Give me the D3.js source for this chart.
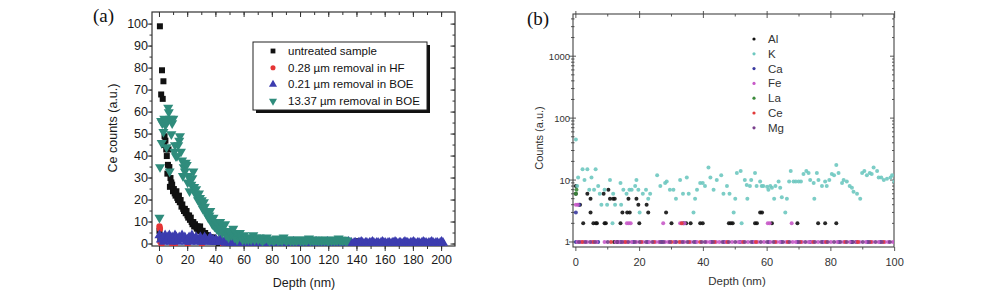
<!DOCTYPE html>
<html>
<head>
<meta charset="utf-8">
<script src="https://cdn.jsdelivr.net/npm/d3@7"></script>
<style>
  html, body { margin: 0; padding: 0; background: #fff; }
  svg { display: block; font-family: Arial, "Liberation Sans", Helvetica, sans-serif; }
</style>
</head>
<body>
<svg id="chart" width="1000" height="294"></svg>
<script>
// ---------- panel (a): Ce counts vs depth ----------
const legendA = ["untreated sample", "0.28 \u00b5m removal in  HF", "0.21 \u00b5m removal in BOE", "13.37 \u00b5m removal in BOE"];
const xTicksA = [0, 20, 40, 60, 80, 100, 120, 140, 160, 180, 200];
const yTicksA = [0, 10, 20, 30, 40, 50, 60, 70, 80, 90, 100];

// [depth nm, counts]
const untreated = [
  [0,6],[0.3,99],[0.6,3],[1.2,68],[1.8,79],[2.3,66],[2.8,74],[3.2,45],[3.6,49],[4.2,47],[4.8,43],[5.2,40],[5.6,32],
  [6.0,36],[6.4,43],[7.0,35],[7.4,26],[7.8,30],[8.4,28],[9.0,27],[9.6,24],[10.2,25],[10.8,23],[11.4,22],[12.0,24],
  [12.6,21],[13.2,20],[13.8,22],[14.4,19],[15.0,20],[15.6,17],[16.2,18],[16.8,16],[17.4,15],[18.0,16],[18.6,14],
  [19.2,15],[19.8,13],[20.4,12],[21.0,13],[21.6,11],[22.2,12],[22.8,10],[23.4,9],[24.0,10],[24.6,8],[25.2,9],
  [25.8,8],[26.4,7],[27.0,8],[27.6,6],[28.2,7],[28.8,8],[29.4,6],[30.0,5],[30.6,6],[31.2,5],[31.8,4],[32.4,5],
  [33.0,4],[33.6,3],[34.2,4],[34.8,3],[35.4,2],[36.0,3],[36.6,2],[37.2,2],[37.8,3],[38.4,2],[39.0,1],[39.6,2],
  [40.2,1],[41,1],[42,0.5],[44,1],[46,0.5],[48,1],[50,0.5],[53,0.5],[56,0.3],[60,0.5],[65,0.3],[70,0.5],[80,0.3],
  [90,0.5],[100,0.3],[110,0.5],[120,0.3],[130,0.5],[140,1.3],[150,0.3],[160,0.5],[170,0.3],[180,0.5],[190,0.3],[200,0.4]
];
const hfRemoval = [[0,8],[0.3,7],[0.6,1],[1.5,0],[9,0],[10,-0.3],[11,0],[20,0],[30,0],[45,0],[60,0]];
const boeShallowDepth0 = 0; // first depth of the 1 nm sampled BOE (0.21 um) profile
const boeShallow = [
  4,2,3,1,4,2,3,4,1,3,2,4,3,1,3,2,4,2,3,1,2,3,1,4,2,2,3,1,2,3,1,2,3,2,1,2,3,1,2,1,2,1,1,2,1,1,
  1,0.5,1,0.5,1,0.5,0.5,1,0.5,0,0.5,1,0.5,0.5,0,0.5,1,0.5,0,0.5,0.5,1,0.5,0,0.5,0.5,0,0.5,1,0.5,
  0.5,0,0.5,0.5,1,0.5,0,0.5,0.5,0,0.5,0.5,1,0.5,0,0.5,0.5,0,0.5,1,0.5,0.5,0,0.5,0.5,0,0.5,1,0.5,0,
  0.5,0.5,0,0.5,0.5,1,0.5,0,0.5,0.5,0,0.5,0.5,1,0.5,0,0.5,0.5,0,0.5,0.5,1,0.5,0,0.5,0.5,0,0.5,1,0.5,
  0.5,0,0.5,0.5,0,0.5,0.5,1,0.5,0,0.5,0.5,0,0.5,0.5,1,0.5,0,0.5,0.5,0,0.5,1,0.5,0.5,0,0.5,0.5,0,0.5,
  0.5,1,0.5,0,0.5,0.5,0,0.5,1,0.5,0.5,0,0.5,0.5,1,0.5,0,0.5,0.5,0,0.5,1,0.5,0.5,0,0.5,0.5,1,0.5,0,
  0.5,0.5,0,0.5,1,0.5
];
const boeDeep = [
  [0,12],[0.4,35],[1.2,56],[1.6,46],[2.0,55],[2.8,51],[3.4,57],[4.2,54],[5.0,44],[5.6,56],[6.2,62],[6.6,60],
  [7.2,33],[7.7,57],[8.4,50],[9.0,55],[9.8,57],[10.5,42],[11.0,45],[11.6,40],[12.4,40],[13.3,45],[14.0,47],
  [14.5,49],[15.2,42],[16.0,38],[16.6,31],[17.2,35],[18.0,33],[18.6,37],[19.3,36],[20.0,28],[20.6,31],[21.3,24],
  [22.0,29],[22.6,27],[23.3,30],[24.0,33],[24.6,26],[25.3,23],[26.0,25],[26.6,22],[27.3,20],[28.0,23],[28.7,21],
  [29.4,18],[30.0,20],[30.8,16],[31.5,19],[32.2,17],[33.0,14],[33.8,15],[34.6,12],[35.4,13],[36.0,15],[36.8,11],
  [37.5,9],[38.3,12],[39.0,8],[39.8,10],[40.5,7],[41.3,9],[42.0,6],[43.0,10],[43.8,7],[44.6,5],[45.4,8],[46.5,9],
  [47.3,4],[48.2,6],[49.0,3],[50.0,5],[51.0,4],[52.3,7],[53.2,3],[54.2,5],[55.0,2],[56.0,4],[57.0,5],[58.0,3],
  [59.0,2],[60.0,4],[61.0,2],[62.0,3],[63.0,2],[64.0,3],[65.0,2],[66.5,4],[67.5,2],[68.5,3],[70,2],[71,3],[72,2],
  [73,1.5],[74,2],[75,2.5],[76,3],[77,2],[78,1.5],[79,2],[80,2],[81,1.5],[82,2],[83,2.5],[84,1.5],[85,2],[86,2],
  [87,1.5],[88,3],[89,2],[90,1.5],[91,2],[92,2],[93,1.5],[94,2],[95,1.5],[96,2],[97,1.5],[98,2],[99,2],[100,1.5],
  [101,2],[102,1.5],[103,2],[104,1.5],[105,2],[106,2.5],[107,1.5],[108,2],[109,1.5],[110,2],[111,1.5],[112,2],
  [113,1.5],[114,2],[115,1.5],[116,2],[117,1.5],[118,2],[119,1.5],[120,1.5],[121,2],[122,1.5],[123,2],[124,1.5],
  [125,2],[126,1.5],[127,2.5],[128,1.5],[129,2],[130,1.5],[131,2],[132,1.5],[133,1.5]
];

// ---------- panel (b): element counts vs depth (log) ----------
const elements = ["Al", "K", "Ca", "Fe", "La", "Ce", "Mg"];
const elementColors = ["#111111", "#6ec8c0", "#3a3aa0", "#c85ac8", "#3a8a3a", "#e23a3a", "#7a3f8c"];
const xTicksB = [0, 20, 40, 60, 80, 100];
const yTicksB = [1, 10, 100, 1000];

const kCounts = [
  [0,45],[0.4,8],[0.7,11],[2.1,15],[2.7,10],[3.6,15],[4.2,7],[4.9,11],[5.7,7],[6.2,15],[7,8],[7.5,6],[8,4],[9,7],
  [9.8,4],[10.7,10],[11.5,2],[11.7,6],[12.3,4],[14,9],[14.2,4],[14.9,7],[15.9,6],[16.8,7],[17.5,7],[18.6,8],[19,10],
  [19.6,7],[20,3],[21,6],[22,7],[22.7,5],[23.3,6],[25.5,12],[26.5,8],[28,9],[28.5,9.5],[29.5,7],[30.6,7],[31.4,5],
  [32.7,10],[33.6,6],[34.8,11],[35.4,6],[36.9,3],[37.4,5],[38,7],[39,9],[39.8,9],[40.5,8],[41.6,16],[42.2,11],
  [43.2,7],[44.2,10],[45.6,12],[46.3,6],[47.4,8],[48.2,6],[49.5,3],[50,5],[50.5,13],[51.7,14],[52,2],[53,10],
  [53.6,8.3],[53.8,5],[54.6,8],[55,10],[56.2,13],[56.7,8],[57.8,9.5],[58.3,8],[58.8,8],[60,7.8],[60.4,7],[61,8],
  [61.5,7.5],[62.2,5],[62.6,8],[63.6,9.5],[64.1,7.5],[64.6,5.3],[65.7,3],[66.2,5],[66.9,9.5],[67.4,14],[68.3,9.5],
  [69,9.5],[69.9,9.5],[70.6,9.5],[71.4,12.5],[72.3,14],[73,13],[73.5,10],[74.6,9],[74.8,5],[75.6,13],[76.1,10],
  [77.2,8],[78.2,9.5],[78.7,8],[79.5,10],[80.3,12.5],[81,12],[81.7,17.5],[82.4,13],[83.5,9],[84,10],[85,9.5],
  [85.9,8],[86.6,7.5],[87.1,6.5],[88.2,6],[89.2,5],[89.8,13],[90.5,14],[91.3,12],[92.2,13],[92.8,12.5],[93.4,16],
  [94.5,14],[95,11],[95.8,11],[96.6,10],[97.6,10.5],[98.7,11],[99.2,12],[99.9,9.5]
];
const alCounts = [
  [0,8],[0,6],[1.3,4],[2.3,2],[3.6,6],[4.6,5],[4.6,3],[5.5,2],[6.3,2],[6.6,2],[8.7,6],[9,2],[9.4,2],[10.2,7],[10.7,5],
  [11.7,5],[12.2,5],[12,1],[13,1],[14,2],[14.6,3],[16.1,3],[16.5,5],[16.9,3],[19,5],[19.6,4],[19.9,2],[22.2,4],
  [22.7,3],[28.3,3],[30,2],[33.8,2],[34.6,2],[36,2],[39,2],[39.8,2],[48,2],[48.6,2],[49.2,2],[56.2,2],[56.8,2],
  [57.8,3],[58.4,3],[61.5,2],[69.5,2],[76,2],[78.2,2],[81.7,2],[86.5,1],[88,1]
];
const caCounts = [[0,3],[1,4],[0,1],[7,1],[14,1],[18,1],[22.5,1],[27,1],[31,1],[37.5,1],[42.5,1],[46.5,1],[51.5,1],
  [55.5,1],[60.5,1],[64.5,1],[69.5,1],[73.5,1],[77.5,1],[82.5,1],[86.5,1],[91.5,1],[95.5,1]];
const feCounts = [[0,4],[0.6,4],[0.5,1],[1.5,1],[2.5,1],[3.5,1],[5,1],[6.5,1],[9,1],[12.5,1],[13.5,1],[15,1],[16,2],
  [16.6,2],[17.2,2],[16,1],[17.5,1],[19,1],[21,1],[23,1],[25,1],[26,1],[27.4,2],[28,1],[29,1],[31,1],[32.7,2],
  [33.4,2],[34.1,2],[33,1],[34,1],[36,1],[38,1],[41,1],[42,1],[44,1],[45,1],[47,1],[49,1],[51,1],[52,1],[54,1],
  [56,1],[57,1],[59,1],[60.2,2],[60.8,2],[61,1],[63,1],[64,1],[66,1],[67.7,2],[68,1],[69,1],[71,1],[73,1],[74,1],
  [76,1],[78,1],[80,1],[82,1],[84,1],[86,1],[88,1],[89,1],[91,1],[93,1],[95,1],[97,1],[98,1],[99.5,1]];
const laCounts = [[0,6],[0.2,7]];
const ceCounts = [[2,1],[5.5,1],[11,1],[15.5,1],[20.5,1],[24.5,1],[30,1],[32.5,1],[33.2,2],[35.5,1],[39,1],[43.5,1],
  [47.5,1],[52.5,1],[56.5,1],[62.5,1],[66.5,1],[70.5,1],[74.5,1],[78.5,1],[84.5,1],[88.5,1],[92.5,1],[96.5,1]];
const mgCounts = [[1,1],[3,1],[4.5,1],[6,1],[10,1],[13,1],[14.5,1],[16.5,1],[18.5,1],[20,1],[22,1],[24,1],[26.5,1],
  [27.5,1],[29.5,1],[31.5,1],[33.5,1],[35,1],[37,1],[39.5,1],[40.5,1],[43,1],[46,1],[48,1],[50,1],[53,1],[55,1],
  [58,1],[60,1],[62,1],[65,1],[67,1],[70,1],[72,1],[75,1],[77,1],[79,1],[81,1],[83,1],[85,1],[87,1],[90,1],[92,1],
  [94,1],[96,1],[98.5,1]];
const elementSeries = [alCounts, kCounts, caCounts, feCounts, laCounts, ceCounts, mgCounts];

const svg = d3.select("#chart");
const axisColor = "#333";

// ---------------- panel (a) ----------------
const xa = d3.scaleLinear().domain([-5.3, 209.5]).range([152, 455]);
const ya = d3.scaleLinear().domain([-0.9, 105.5]).range([246, 12]);
const ga = svg.append("g");

ga.append("rect").attr("x", 152).attr("y", 12).attr("width", 303).attr("height", 234)
  .attr("fill", "none").attr("stroke", axisColor).attr("stroke-width", 1.2);

const xMinorA = d3.range(0, 201, 10);
const yMinorA = d3.range(0, 101, 5);
function tickLines(g, vals, scale, orient, len) {
  vals.forEach(v => {
    const p = scale(v);
    if (orient === "bottom") g.append("line").attr("x1", p).attr("x2", p).attr("y1", 246).attr("y2", 246 + len);
    if (orient === "top") g.append("line").attr("x1", p).attr("x2", p).attr("y1", 12).attr("y2", 12 + len);
    if (orient === "left") g.append("line").attr("y1", p).attr("y2", p).attr("x1", 152).attr("x2", 152 - len);
    if (orient === "right") g.append("line").attr("y1", p).attr("y2", p).attr("x1", 455).attr("x2", 455 - len);
  });
}
const ta = ga.append("g").attr("stroke", axisColor).attr("stroke-width", 1);
tickLines(ta, xMinorA, xa, "bottom", 3);
tickLines(ta, xTicksA, xa, "bottom", 5);
tickLines(ta, xMinorA, xa, "top", 3);
tickLines(ta, xTicksA, xa, "top", 5);
tickLines(ta, yMinorA, ya, "left", 2.5);
tickLines(ta, yTicksA, ya, "left", 4.5);
tickLines(ta, yMinorA, ya, "right", 2.5);
tickLines(ta, yTicksA, ya, "right", 4.5);

const labA = { size: 12.5, fill: "#1a1a1a" };
ga.append("g").selectAll("text").data(xTicksA).join("text")
  .attr("x", d => xa(d)).attr("y", 264).attr("text-anchor", "middle")
  .attr("font-size", labA.size).attr("fill", labA.fill).text(d => d);
ga.append("g").selectAll("text").data(yTicksA).join("text")
  .attr("x", 148).attr("y", d => ya(d) + 4.3).attr("text-anchor", "end")
  .attr("font-size", labA.size).attr("fill", labA.fill).text(d => d);

ga.append("text").attr("transform", "translate(117,128) rotate(-90)").attr("text-anchor", "middle")
  .attr("font-size", labA.size).attr("fill", labA.fill).text("Ce counts (a.u.)");
ga.append("text").attr("x", 304).attr("y", 287).attr("text-anchor", "middle")
  .attr("font-size", labA.size).attr("fill", labA.fill).text("Depth (nm)");
svg.append("text").attr("x", 93).attr("y", 22).attr("font-family", "'Times New Roman', 'Liberation Serif', serif")
  .attr("font-size", 19).attr("fill", "#111").text("(a)");

const clipA = svg.append("defs").append("clipPath").attr("id", "clipA");
clipA.append("rect").attr("x", 152).attr("y", 12).attr("width", 303).attr("height", 234);
const marksA = ga.append("g").attr("clip-path", "url(#clipA)");

const colA = ["#111111", "#e53535", "#3c3caf", "#2f8c7c"];
const sq = d3.symbol().type(d3.symbolSquare).size(36);
const tri = d3.symbol().type(d3.symbolTriangle).size(44);
const circ = d3.symbol().type(d3.symbolCircle).size(32);

// drawing order follows the legend: untreated, HF, BOE 0.21, BOE 13.37
marksA.append("g").selectAll("path").data(untreated).join("path")
  .attr("d", sq).attr("fill", colA[0])
  .attr("transform", d => `translate(${xa(d[0])},${ya(d[1])})`);
marksA.append("g").selectAll("path").data(hfRemoval).join("path")
  .attr("d", circ).attr("fill", colA[1])
  .attr("transform", d => `translate(${xa(d[0])},${ya(d[1])})`);
marksA.append("g").selectAll("path").data(boeShallow).join("path")
  .attr("d", tri).attr("fill", colA[2])
  .attr("transform", (d, i) => `translate(${xa(boeShallowDepth0 + i)},${ya(d)})`);
marksA.append("g").selectAll("path").data(boeDeep).join("path")
  .attr("d", tri).attr("fill", colA[3])
  .attr("transform", d => `translate(${xa(d[0])},${ya(d[1])}) rotate(180)`);

// legend (a)
const lgA = ga.append("g");
lgA.append("rect").attr("x", 256).attr("y", 45).attr("width", 174).attr("height", 68).attr("fill", "#111");
lgA.append("rect").attr("x", 253).attr("y", 42).attr("width", 174).attr("height", 68)
  .attr("fill", "#fff").attr("stroke", "#222").attr("stroke-width", 1);
const legendSyms = [
  { s: sq, c: colA[0], r: 0 }, { s: circ, c: colA[1], r: 0 }, { s: tri, c: colA[2], r: 0 }, { s: tri, c: colA[3], r: 180 }
];
legendA.forEach((label, i) => {
  const y = 51 + i * 16.7;
  lgA.append("path").attr("d", legendSyms[i].s).attr("fill", legendSyms[i].c)
    .attr("transform", `translate(273,${y}) rotate(${legendSyms[i].r}) scale(0.8)`);
  lgA.append("text").attr("x", 288).attr("y", y + 4).attr("font-size", 11.5).attr("fill", "#111").text(label);
});

// ---------------- panel (b) ----------------
const xb = d3.scaleLinear().domain([-0.9, 99.8]).range([573, 894]);
const yb = d3.scaleLog().domain([0.83, 4800]).range([247, 14]);
const gb = svg.append("g");
gb.append("rect").attr("x", 573).attr("y", 14).attr("width", 321).attr("height", 233)
  .attr("fill", "none").attr("stroke", "#444").attr("stroke-width", 1.1);

const tb = gb.append("g").attr("stroke", "#444").attr("stroke-width", 0.9);
const xMinorB = d3.range(0, 101, 10);
xMinorB.forEach(v => {
  const p = xb(v), big = v % 20 === 0;
  tb.append("line").attr("x1", p).attr("x2", p).attr("y1", 247).attr("y2", 247 + (big ? 4 : 2.5));
  tb.append("line").attr("x1", p).attr("x2", p).attr("y1", 14).attr("y2", 14 + (big ? 4 : 2.5));
  tb.append("line").attr("x1", p).attr("x2", p).attr("y1", 14).attr("y2", 14 - (big ? 3 : 0));
});
const logMinor = [];
[1, 10, 100, 1000].forEach(dec => { for (let k = 1; k <= 9; k++) if (dec * k <= 4800 && dec * k >= 0.83) logMinor.push(dec * k); });
logMinor.forEach(v => {
  const p = yb(v), big = yTicksB.includes(v);
  tb.append("line").attr("y1", p).attr("y2", p).attr("x1", 573).attr("x2", 573 - (big ? 4 : 2));
  tb.append("line").attr("y1", p).attr("y2", p).attr("x1", 573).attr("x2", 573 + (big ? 3 : 1.5));
  tb.append("line").attr("y1", p).attr("y2", p).attr("x1", 894).attr("x2", 894 - (big ? 4 : 2));
});

gb.append("g").selectAll("text").data(xTicksB).join("text")
  .attr("x", d => xb(d)).attr("y", 266).attr("text-anchor", "middle")
  .attr("font-size", 11).attr("fill", "#333").text(d => d);
gb.append("g").selectAll("text").data(yTicksB).join("text")
  .attr("x", 570).attr("y", d => yb(d) + 3.5).attr("text-anchor", "end")
  .attr("font-size", 9.5).attr("fill", "#333").text(d => d);
gb.append("text").attr("transform", "translate(543,138) rotate(-90)").attr("text-anchor", "middle")
  .attr("font-size", 11).attr("fill", "#333").text("Counts (a.u.)");
gb.append("text").attr("x", 737).attr("y", 285).attr("text-anchor", "middle")
  .attr("font-size", 11.5).attr("fill", "#333").text("Depth (nm)");
svg.append("text").attr("x", 527).attr("y", 25).attr("font-family", "'Times New Roman', 'Liberation Serif', serif")
  .attr("font-size", 19).attr("fill", "#111").text("(b)");

const clipB = svg.append("defs").append("clipPath").attr("id", "clipB");
clipB.append("rect").attr("x", 573).attr("y", 14).attr("width", 321).attr("height", 233);
const marksB = gb.append("g").attr("clip-path", "url(#clipB)");
elementSeries.forEach((series, i) => {
  marksB.append("g").selectAll("circle").data(series).join("circle")
    .attr("cx", d => xb(d[0])).attr("cy", d => yb(d[1])).attr("r", 2)
    .attr("fill", elementColors[i]).attr("fill-opacity", 0.9);
});

// legend (b)
elements.forEach((name, i) => {
  const y = 39 + i * 14.8;
  gb.append("circle").attr("cx", 754).attr("cy", y).attr("r", 1.6).attr("fill", elementColors[i]);
  gb.append("text").attr("x", 768).attr("y", y + 4).attr("font-size", 11.5).attr("fill", "#333").text(name);
});
</script>
</body>
</html>
